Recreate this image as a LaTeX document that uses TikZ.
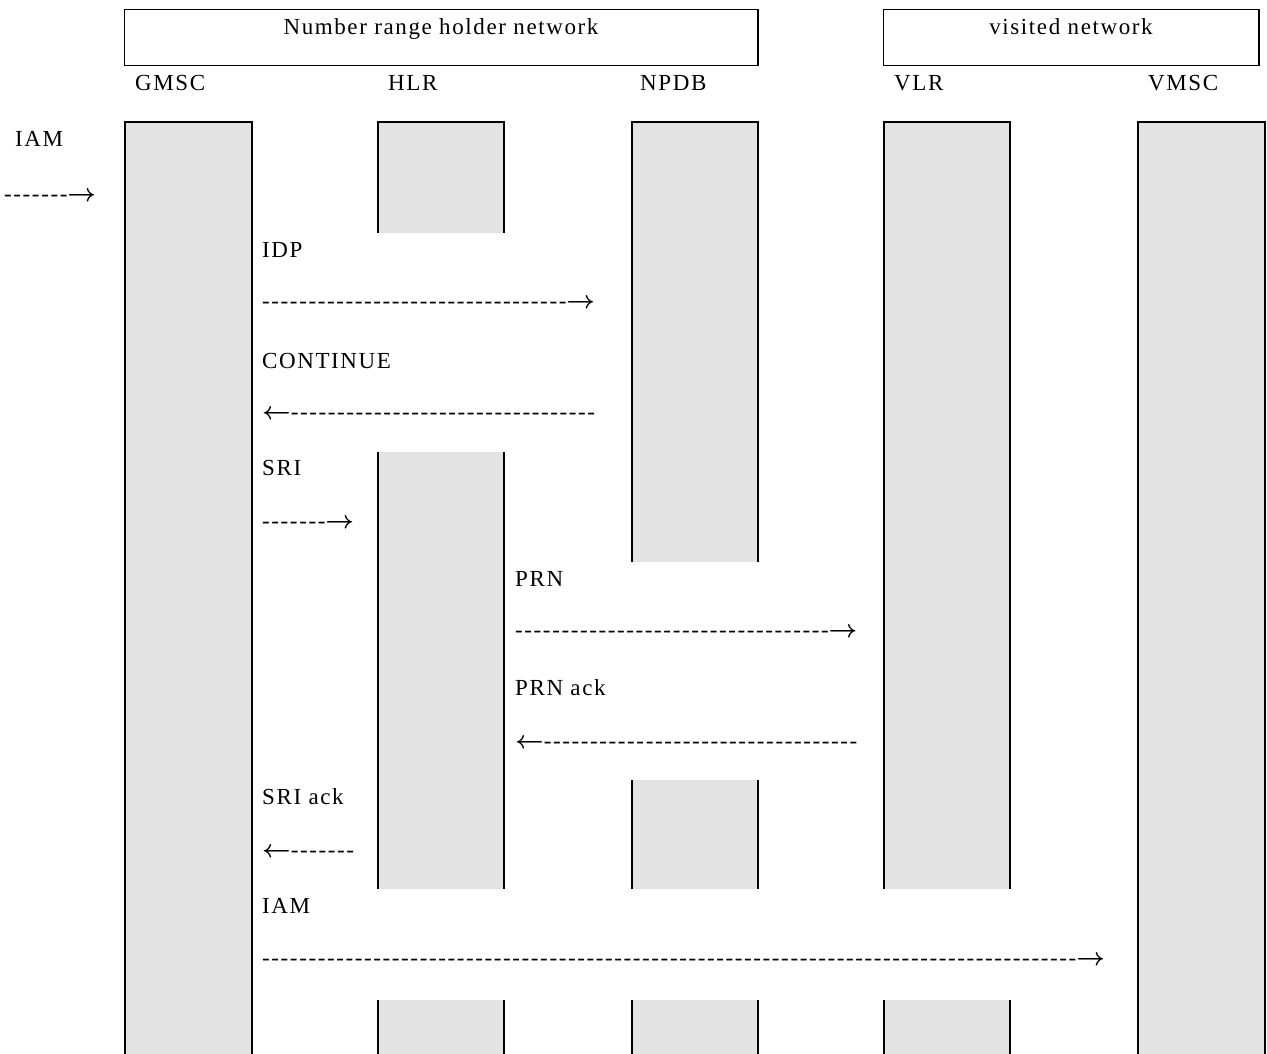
\documentclass[tikz,border=0pt]{standalone}
\usepackage{bm}
\usepackage{fontspec}
\setmainfont{Liberation Serif}[LetterSpace=7,Ligatures=TeXOff]
\ExplSyntaxOn
\cs_new:Npn \myDashes #1 {\prg_replicate:nn{#1}{-}}
\ExplSyntaxOff
\newcommand{\myRA}{$\bm{\rightarrow}$}
\newcommand{\myLA}{$\bm{\leftarrow}$}
\begin{document}
\begin{tikzpicture}[x=1pt,y=-1pt,
  lbl/.style={anchor=base west,inner sep=0pt,font=\fontsize{23}{27}\selectfont},
  ttl/.style={anchor=base,inner sep=0pt,font=\fontsize{23}{27}\selectfont},
  hdr/.style={draw,line width=1.8pt},
  barfill/.style={fill=black!11},
  edge/.style={line width=2pt}]
\useasboundingbox (0,0) rectangle (1267,1054);
% headers
\draw[hdr] (124.5,9.5) rectangle (758,65.5);
\draw[hdr] (883.5,9.5) rectangle (1259,65.5);
\node[ttl] (nrh) at (441,35) {Number range holder network};
\node[ttl] (vis) at (1071,35) {visited network};
% column labels
\node[lbl] (lgmsc) at (135,91) {GMSC};
\node[lbl] (lhlr) at (388,91) {HLR};
\node[lbl] (lnpdb) at (640,91) {NPDB};
\node[lbl] (lvlr) at (894,91) {VLR};
\node[lbl] (lvmsc) at (1148,91) {VMSC};
% bars
\newcommand{\myBarTop}[4]{%
  \fill[barfill] (#1,#3) rectangle (#2,#4);
  \draw[edge] (#1,#4) -- (#1,#3) -- (#2,#3) -- (#2,#4);}
\newcommand{\myBarMid}[4]{%
  \fill[barfill] (#1,#3) rectangle (#2,#4);
  \draw[edge] (#1,#3) -- (#1,#4) (#2,#3) -- (#2,#4);}
% GMSC
\myBarTop{125}{252}{122}{1054}
% HLR
\myBarTop{378}{504}{122}{233}
\myBarMid{378}{504}{452}{889}
\myBarMid{378}{504}{1000}{1054}
% NPDB
\myBarTop{632}{758}{122}{562}
\myBarMid{632}{758}{780}{889}
\myBarMid{632}{758}{1000}{1054}
% VLR
\myBarTop{884}{1010}{122}{889}
\myBarMid{884}{1010}{1000}{1054}
% VMSC
\myBarTop{1138}{1265}{122}{1054}
% messages
\node[lbl] (m1) at (15,147) {IAM};
\node[lbl] (a1) at (4,201) {\myDashes{7}\myRA};
\node[lbl] (m2) at (262,257) {IDP};
\node[lbl] (a2) at (262,308) {\myDashes{33}\myRA};
\node[lbl] (m3) at (262,368) {CONTINUE};
\node[lbl] (a3) at (262,419) {\myLA\myDashes{33}};
\node[lbl] (m4) at (262,475) {SRI};
\node[lbl] (a4) at (262,528) {\myDashes{7}\myRA};
\node[lbl] (m5) at (515,586) {PRN};
\node[lbl] (a5) at (515,637) {\myDashes{34}\myRA};
\node[lbl] (m6) at (515,695) {PRN ack};
\node[lbl] (a6) at (515,748) {\myLA\myDashes{34}};
\node[lbl] (m7) at (262,804) {SRI ack};
\node[lbl] (a7) at (262,857) {\myLA\myDashes{7}};
\node[lbl] (m8) at (262,913) {IAM};
\node[lbl] (a8) at (262,965) {\myDashes{88}\myRA};
\end{tikzpicture}
\end{document}
